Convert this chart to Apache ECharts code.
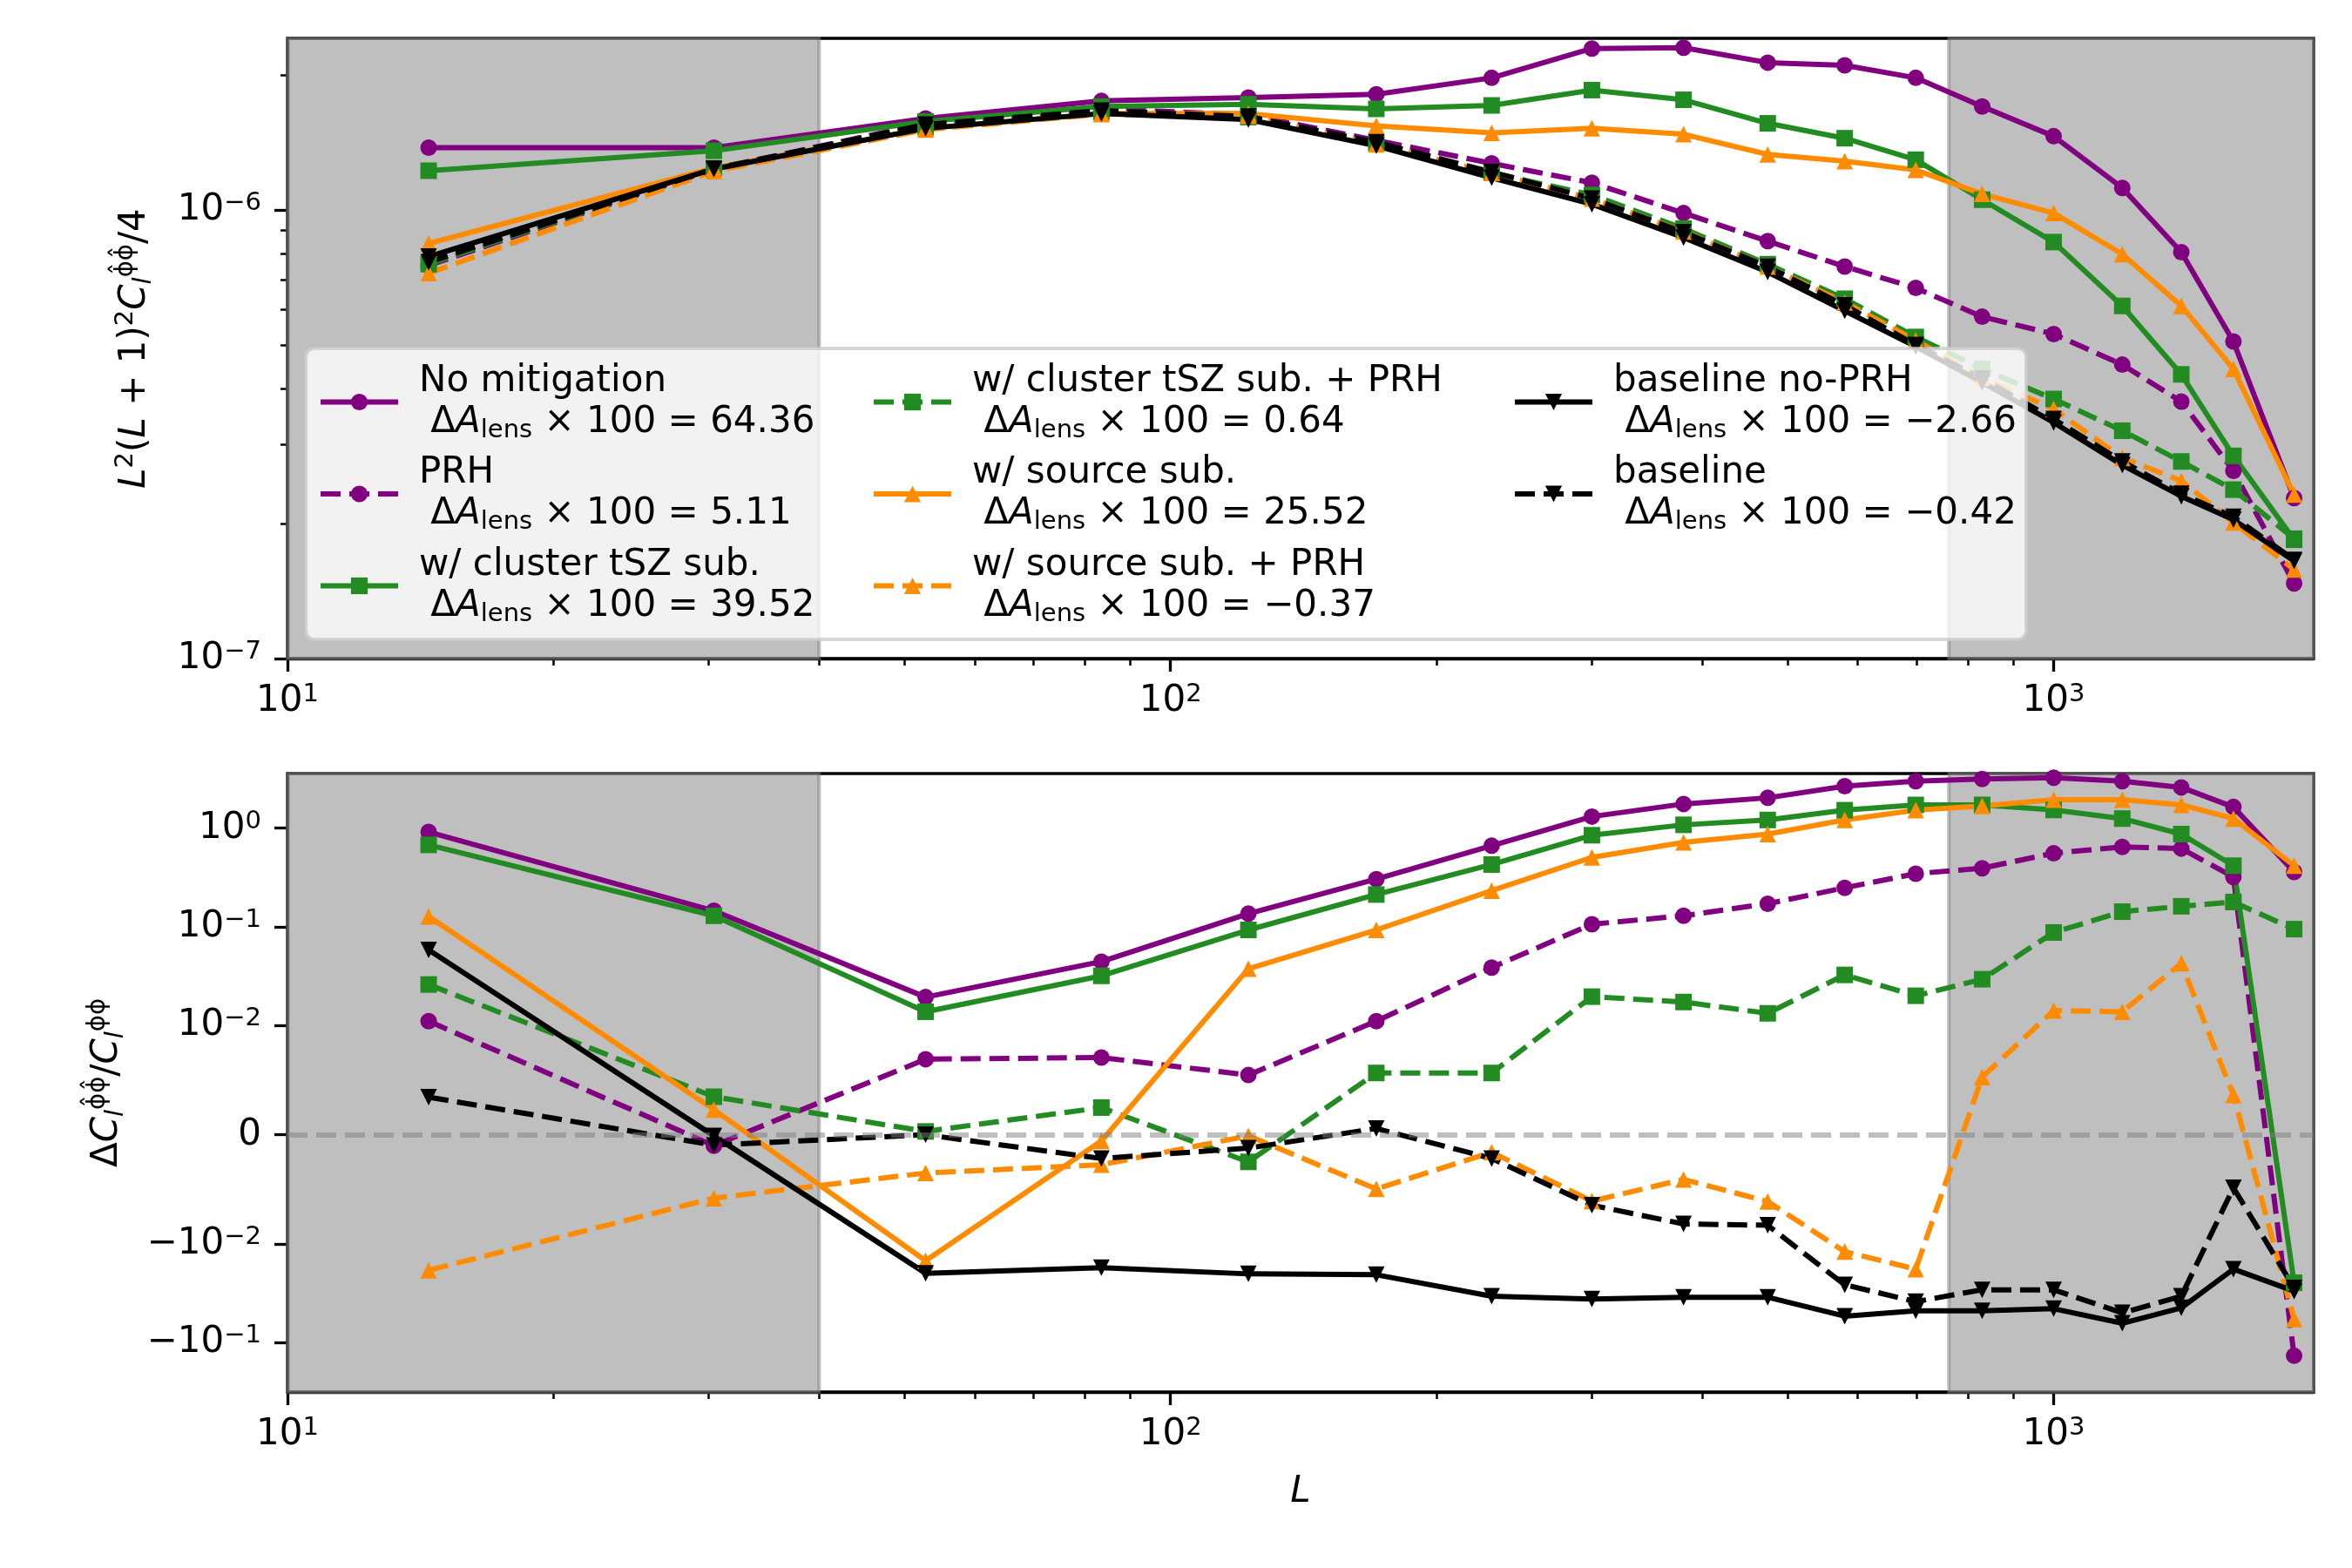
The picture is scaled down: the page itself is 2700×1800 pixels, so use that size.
<!DOCTYPE html>
<html>
<head>
<meta charset="utf-8">
<script src="https://cdn.jsdelivr.net/npm/echarts@6/dist/echarts.min.js"></script>
<style>
    html, body { margin: 0; padding: 0; background: #fff; }
    #main { width: 2700px; height: 1800px; }
</style>
</head>
<body>
<div id="main"></div>
<script>
// multipole bin centres
var ells = [14.45, 30.4, 52.8, 83.5, 122.5, 171, 231, 300, 381, 474.5, 580, 698, 830, 1000, 1196, 1395, 1598, 1872];

// top panel: L^2(L+1)^2 C_l / 4
var noMitTop = [1.377e-6, 1.377e-6, 1.60e-6, 1.75e-6, 1.78e-6, 1.81e-6, 1.97e-6, 2.29e-6, 2.30e-6, 2.13e-6, 2.10e-6, 1.97e-6, 1.70e-6, 1.46e-6, 1.12e-6, 8.05e-7, 5.09e-7, 2.28e-7];
var prhTop = [7.52e-7, 1.233e-6, 1.56e-6, 1.68e-6, 1.63e-6, 1.43e-6, 1.27e-6, 1.15e-6, 9.84e-7, 8.52e-7, 7.48e-7, 6.70e-7, 5.78e-7, 5.29e-7, 4.52e-7, 3.74e-7, 2.62e-7, 1.47e-7];
var clusterTop = [1.223e-6, 1.355e-6, 1.574e-6, 1.70e-6, 1.72e-6, 1.68e-6, 1.71e-6, 1.85e-6, 1.76e-6, 1.56e-6, 1.445e-6, 1.294e-6, 1.054e-6, 8.48e-7, 6.11e-7, 4.30e-7, 2.83e-7, 1.84e-7];
var clusterPrhTop = [7.57e-7, 1.238e-6, 1.53e-6, 1.655e-6, 1.61e-6, 1.41e-6, 1.21e-6, 1.08e-6, 9.09e-7, 7.57e-7, 6.34e-7, 5.21e-7, 4.42e-7, 3.79e-7, 3.22e-7, 2.75e-7, 2.38e-7, 1.85e-7];
var sourceTop = [8.42e-7, 1.24e-6, 1.52e-6, 1.64e-6, 1.64e-6, 1.54e-6, 1.486e-6, 1.52e-6, 1.475e-6, 1.33e-6, 1.285e-6, 1.228e-6, 1.086e-6, 9.84e-7, 7.97e-7, 6.11e-7, 4.42e-7, 2.32e-7];
var sourcePrhTop = [7.23e-7, 1.22e-6, 1.51e-6, 1.635e-6, 1.62e-6, 1.40e-6, 1.21e-6, 1.06e-6, 8.95e-7, 7.48e-7, 6.22e-7, 5.12e-7, 4.23e-7, 3.60e-7, 2.80e-7, 2.49e-7, 2.01e-7, 1.58e-7];
var baseNoPrhTop = [7.87e-7, 1.234e-6, 1.52e-6, 1.64e-6, 1.59e-6, 1.39e-6, 1.18e-6, 1.03e-6, 8.68e-7, 7.27e-7, 5.96e-7, 4.96e-7, 4.13e-7, 3.36e-7, 2.70e-7, 2.30e-7, 2.04e-7, 1.65e-7];
var baseTop = [7.65e-7, 1.235e-6, 1.55e-6, 1.665e-6, 1.615e-6, 1.415e-6, 1.215e-6, 1.06e-6, 8.92e-7, 7.47e-7, 6.13e-7, 5.0e-7, 4.21e-7, 3.42e-7, 2.75e-7, 2.33e-7, 2.07e-7, 1.66e-7];

// bottom panel: relative difference
var noMitRel = [0.914, 0.145, 0.0193, 0.0442, 0.1355, 0.304, 0.663, 1.31, 1.76, 2.03, 2.67, 3.0, 3.15, 3.25, 3.0, 2.59, 1.64, 0.359];
var prhRel = [0.011, -0.001, 0.0069, 0.00705, 0.00545, 0.011, 0.0385, 0.106, 0.129, 0.171, 0.248, 0.345, 0.392, 0.557, 0.645, 0.62, 0.319, -0.1355];
var clusterRel = [0.676, 0.129, 0.0137, 0.0317, 0.0927, 0.212, 0.427, 0.847, 1.08, 1.21, 1.52, 1.72, 1.72, 1.53, 1.25, 0.87, 0.416, -0.0246];
var clusterPrhRel = [0.0259, 0.00347, 0.0003, 0.00248, -0.00248, 0.00564, 0.00564, 0.0195, 0.0172, 0.0132, 0.0324, 0.0199, 0.0293, 0.0873, 0.142, 0.161, 0.178, 0.0944];
var sourceRel = [0.127, 0.00229, -0.0147, -0.00057, 0.0374, 0.0927, 0.232, 0.505, 0.718, 0.871, 1.21, 1.52, 1.675, 1.94, 1.94, 1.72, 1.25, 0.416];
var sourcePrhRel = [-0.0184, -0.00579, -0.0035, -0.00274, -0.0001, -0.00495, -0.0016, -0.00606, -0.00408, -0.0061, -0.0119, -0.0179, 0.00526, 0.0141, 0.0137, 0.0425, 0.00362, -0.0575];
var baseNoPrhRel = [0.058, -0.0001, -0.0197, -0.0173, -0.02, -0.0204, -0.0337, -0.036, -0.0345, -0.0345, -0.0537, -0.0473, -0.0473, -0.0451, -0.0634, -0.0442, -0.0179, -0.0299];
var baseRel = [0.00343, -0.00095, 0.0, -0.00217, -0.00122, 0.00057, -0.00217, -0.00644, -0.00815, -0.00827, -0.0258, -0.0382, -0.029, -0.029, -0.0497, -0.0337, -0.00484, -0.0277];

var names = ['No mitigation', 'PRH', 'w/ cluster tSZ sub.', 'w/ cluster tSZ sub. + PRH',
    'w/ source sub.', 'w/ source sub. + PRH', 'baseline no-PRH', 'baseline'];
var dAlens = ['64.36', '5.11', '39.52', '0.64', '25.52', '−0.37', '−2.66', '−0.42'];

// tick values
var xMajor = [10, 100, 1000];
var xMinor = [20, 30, 40, 50, 60, 70, 80, 90, 200, 300, 400, 500, 600, 700, 800, 900];
var topMajor = [1e-7, 1e-6];
var topMinor = [2e-7, 3e-7, 4e-7, 5e-7, 6e-7, 7e-7, 8e-7, 9e-7, 2e-6];
var relTicks = [-0.1, -0.01, 0, 0.01, 0.1, 1];

// masked L ranges
var xMax = 1970;
var maskLow = [10, 40];
var maskHigh = [761, xMax];

var FONT = 'DejaVu Sans';

// matplotlib style symlog, linthresh 0.01, linscale 1
function symlog(v) {
    var c = 0.01, s = 1 / (1 - 1 / 10);
    var a = Math.abs(v);
    var t = a <= c ? a / c * s : s + Math.log10(a / c);
    return v < 0 ? -t : t;
}

var colors = ['#800080', '#800080', '#228B22', '#228B22', '#FF8C00', '#FF8C00', '#000000', '#000000'];
var symbols = ['circle', 'circle', 'rect', 'rect', 'triangle', 'triangle', 'triangle', 'triangle'];
var rotates = [0, 0, 0, 0, 0, 0, 180, 180];
var dashed = [false, true, false, true, false, true, false, true];
var topData = [noMitTop, prhTop, clusterTop, clusterPrhTop, sourceTop, sourcePrhTop, baseNoPrhTop, baseTop];
var relData = [noMitRel, prhRel, clusterRel, clusterPrhRel, sourceRel, sourcePrhRel, baseNoPrhRel, baseRel];

var numRich = {
    b: { fontFamily: FONT, fontSize: 42, lineHeight: 44, color: '#000' },
    s: { fontFamily: FONT, fontSize: 29, lineHeight: 22, verticalAlign: 'top', color: '#000' }
};
var nameRich = {
    r: { fontFamily: FONT, fontSize: 42, lineHeight: 50, color: '#000' },
    i: { fontFamily: FONT, fontSize: 42, lineHeight: 50, fontStyle: 'italic', color: '#000' },
    s: { fontFamily: FONT, fontSize: 29, lineHeight: 28, verticalAlign: 'top', color: '#000' },
    sub: { fontFamily: FONT, fontSize: 29, lineHeight: 24, verticalAlign: 'bottom', fontStyle: 'italic', color: '#000' }
};
var legRich = {
    t: { fontFamily: FONT, fontSize: 42, lineHeight: 47, color: '#000' },
    i: { fontFamily: FONT, fontSize: 42, lineHeight: 47, fontStyle: 'italic', color: '#000' },
    sub: { fontFamily: FONT, fontSize: 29, lineHeight: 24, verticalAlign: 'bottom', color: '#000' }
};

function powLabel(v) {
    var e = Math.round(Math.log10(v));
    return '{b|10}{s|' + (e < 0 ? '−' : '') + Math.abs(e) + '}';
}
function relLabel(t) {
    var best = 0, bd = 1e9;
    relTicks.forEach(function (v) {
        var d = Math.abs(symlog(v) - t);
        if (d < bd) { bd = d; best = v; }
    });
    if (best === 0) return '{b|0}';
    var e = Math.round(Math.log10(Math.abs(best)));
    return '{b|' + (best < 0 ? '−' : '') + '10}{s|' + (e < 0 ? '−' : '') + Math.abs(e) + '}';
}

function majorX(grid, withName) {
    return {
        type: 'log', logBase: 10, gridIndex: grid, min: 10, max: xMax, position: 'bottom',
        name: withName ? '{i|L}' : '', nameLocation: 'middle', nameGap: 90,
        nameTextStyle: { rich: nameRich },
        axisLine: { show: true, onZero: false, lineStyle: { color: '#000', width: 3.3 } },
        axisTick: { show: true, customValues: xMajor, length: 15, lineStyle: { color: '#000', width: 3.3 } },
        axisLabel: { customValues: xMajor, margin: 27, formatter: powLabel, rich: numRich },
        splitLine: { show: false }, minorTick: { show: false }
    };
}
function minorAxis(type, grid, pos, min, max, vals) {
    return {
        type: type, logBase: 10, gridIndex: grid, position: pos, min: min, max: max,
        axisLine: { show: false, onZero: false },
        axisTick: { show: true, customValues: vals, length: 8, lineStyle: { color: '#000', width: 2.5 } },
        axisLabel: { show: false },
        splitLine: { show: false }
    };
}

var series = [];
[0, 1].forEach(function (g) {
    var shade = {
        type: 'line', xAxisIndex: g * 2, yAxisIndex: g * 2, data: [], z: 1, silent: true,
        markArea: {
            silent: true,
            itemStyle: { color: 'rgba(128,128,128,0.5)', borderColor: 'rgba(128,128,128,0.5)', borderWidth: 4 },
            data: [[{ xAxis: maskLow[0] }, { xAxis: maskLow[1] }], [{ xAxis: maskHigh[0] }, { xAxis: maskHigh[1] }]]
        }
    };
    if (g === 1) {
        shade.markLine = {
            silent: true, symbol: 'none', label: { show: false },
            lineStyle: { color: 'rgba(128,128,128,0.5)', type: [23, 10], width: 6 },
            data: [{ yAxis: 0 }]
        };
    }
    series.push(shade);
});

names.forEach(function (nm, k) {
    [0, 1].forEach(function (g) {
        var vals = g === 0 ? topData[k] : relData[k];
        series.push({
            name: nm, type: 'line', xAxisIndex: g * 2, yAxisIndex: g * 2,
            data: ells.map(function (l, i) { return [l, g === 0 ? vals[i] : symlog(vals[i])]; }),
            symbol: symbols[k], symbolRotate: rotates[k], symbolSize: 19, showAllSymbol: true,
            lineStyle: { color: colors[k], width: 6, type: dashed[k] ? [23, 10] : 'solid' },
            itemStyle: { color: colors[k] },
            z: 2
        });
    });
});

var legendText = {};
names.forEach(function (nm, k) {
    legendText[nm] = '{t|' + nm + '}\n{t| Δ}{i|A}{sub|lens}{t| × 100 = ' + dAlens[k] + '}';
});
var legendCols = [[names[0], names[1], names[2]], [names[3], names[4], names[5]], [names[6], names[7]]];
var legendLeft = [360, 995, 1731];

var myChart = echarts.init(document.getElementById('main'));

var option = {
    animation: false,
    backgroundColor: '#fff',
    grid: [
        { left: 330, right: 44, top: 44, height: 712, show: true, borderColor: '#000', borderWidth: 3.3 },
        { left: 330, right: 44, top: 888, height: 710, show: true, borderColor: '#000', borderWidth: 3.3 }
    ],
    xAxis: [
        majorX(0, false),
        minorAxis('log', 0, 'bottom', 10, xMax, xMinor),
        majorX(1, true),
        minorAxis('log', 1, 'bottom', 10, xMax, xMinor)
    ],
    yAxis: [
        {
            type: 'log', logBase: 10, gridIndex: 0, min: 1e-7, max: 2.413e-6, position: 'left',
            name: '{i|L}{s|2}{r|(}{i|L}{r| + 1)}{s|2}{i|C}{sub|l}{s|ϕ̂ϕ̂}{r|/4}',
            nameLocation: 'middle', nameRotate: 90, nameGap: 150,
            nameTextStyle: { rich: nameRich },
            axisLine: { show: true, onZero: false, lineStyle: { color: '#000', width: 3.3 } },
            axisTick: { show: true, customValues: topMajor, length: 15, lineStyle: { color: '#000', width: 3.3 } },
            axisLabel: { customValues: topMajor, margin: 30, formatter: powLabel, rich: numRich },
            splitLine: { show: false }
        },
        minorAxis('log', 0, 'left', 1e-7, 2.413e-6, topMinor),
        {
            type: 'value', gridIndex: 1, min: -2.611, max: 3.665, position: 'left',
            name: '{r|Δ}{i|C}{sub|l}{s|ϕ̂ϕ̂}{r|/}{i|C}{sub|l}{s|ϕϕ}',
            nameLocation: 'middle', nameRotate: 90, nameGap: 182,
            nameTextStyle: { rich: nameRich },
            axisLine: { show: true, onZero: false, lineStyle: { color: '#000', width: 3.3 } },
            axisTick: { show: true, customValues: relTicks.map(symlog), length: 15, lineStyle: { color: '#000', width: 3.3 } },
            axisLabel: { customValues: relTicks.map(symlog), margin: 30, formatter: relLabel, rich: numRich },
            splitLine: { show: false }
        }
    ],
    legend: legendCols.map(function (col, k) {
        return {
            data: col, orient: 'vertical', left: legendLeft[k], top: 412,
            itemWidth: 89, itemHeight: 24, itemGap: 14, selectedMode: false,
            lineStyle: { width: 6 },
            formatter: function (name) { return legendText[name]; },
            textStyle: { fontFamily: FONT, fontSize: 42, color: '#000', padding: [0, 0, 0, 19], rich: legRich },
            z: 5
        };
    }),
    graphic: [{
        type: 'rect', z: 3,
        shape: { x: 351, y: 400, width: 1975, height: 334, r: 10 },
        style: { fill: 'rgba(255,255,255,0.8)', stroke: 'rgba(204,204,204,0.8)', lineWidth: 4 }
    }],
    series: series
};

myChart.setOption(option);
</script>
</body>
</html>
